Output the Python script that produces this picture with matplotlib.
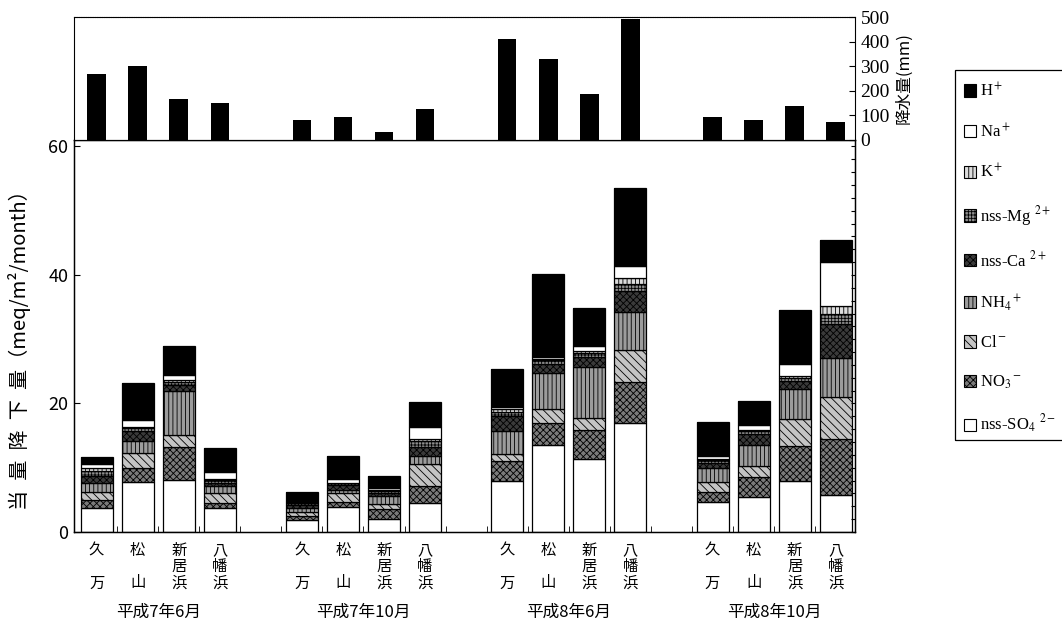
import matplotlib
matplotlib.use('Agg')
import matplotlib.pyplot as plt
import numpy as np
from matplotlib.patches import Patch, Rectangle

plt.rcParams['font.family'] = ['Noto Sans CJK JP', 'DejaVu Sans']
plt.rcParams['mathtext.fontset'] = 'stix'
plt.rcParams['hatch.linewidth'] = 0.6

# ---- data ----
sites = ['久\n\n万', '松\n\n山', '新\n居\n浜', '八\n幡\n浜']
periods = ['平成7年6月', '平成7年10月', '平成8年6月', '平成8年10月']

# 16 bars: 4 periods x 4 sites (久万, 松山, 新居浜, 八幡浜)
so4 = [3.7, 7.8, 8.1, 3.7, 1.8, 3.9, 2.1, 4.5, 7.9, 13.6, 11.3, 16.9, 4.6, 5.5, 8.0, 5.7]
no3 = [1.3, 2.2, 5.1, 0.8, 0.7, 0.8, 1.5, 2.7, 3.2, 3.4, 4.5, 6.5, 1.7, 3.0, 5.4, 8.8]
cl = [1.2, 2.3, 1.9, 1.6, 0.6, 1.3, 0.8, 3.4, 1.1, 2.2, 2.0, 4.9, 1.5, 1.8, 4.2, 6.5]
nh4 = [1.5, 1.9, 6.8, 1.0, 0.6, 0.6, 1.2, 1.3, 3.5, 5.6, 7.9, 5.9, 2.1, 3.3, 4.6, 6.0]
ca = [1.0, 1.5, 0.9, 0.6, 0.5, 0.7, 0.5, 1.3, 2.4, 1.4, 1.6, 3.3, 0.9, 1.6, 1.3, 5.3]
mg = [0.8, 0.5, 0.6, 0.4, 0.3, 0.3, 0.3, 0.9, 0.6, 0.5, 0.6, 1.1, 0.4, 0.5, 0.5, 1.7]
k = [0.5, 0.2, 0.3, 0.2, 0.2, 0.1, 0.1, 0.3, 0.4, 0.2, 0.3, 0.9, 0.2, 0.2, 0.2, 1.1]
na = [0.6, 1.0, 0.7, 1.1, 0.2, 0.5, 0.4, 1.9, 0.3, 0.4, 0.8, 1.9, 0.5, 0.8, 2.0, 6.9]
h = [1.0, 5.8, 4.6, 3.6, 1.3, 3.7, 1.8, 3.9, 6.0, 12.8, 5.9, 12.2, 5.2, 3.7, 8.3, 3.4]

rain = [270, 300, 165, 150, 80, 92, 32, 125, 410, 330, 185, 490, 92, 82, 140, 75]

# stacking order bottom -> top
stack = [
    (r'nss-SO$_4$ $^{2-}$', so4, 'white', None),
    (r'NO$_3$$^-$', no3, '#7a7a7a', 'xxxxx'),
    (r'Cl$^-$', cl, '#c4c4c4', '\\\\\\\\'),
    (r'NH$_4$$^+$', nh4, '#9c9c9c', '||||'),
    (r'nss-Ca $^{2+}$', ca, '#3a3a3a', 'xxxxx'),
    (r'nss-Mg $^{2+}$', mg, '#8e8e8e', '+++++'),
    (r'K$^+$', k, '#dcdcdc', '||||'),
    (r'Na$^+$', na, 'white', None),
    (r'H$^+$', h, 'black', None),
]

x = np.array([g * 5 + s for g in range(4) for s in range(4)])
xlim = (-0.55, 18.47)

fig = plt.figure(figsize=(10.62, 6.31), dpi=100)
L, W = 74 / 1062, 781 / 1062
ax = fig.add_axes([L, 1 - 532 / 631, W, 392 / 631])
axt = fig.add_axes([L, 1 - 140 / 631, W, 123 / 631])

bottom = np.zeros(len(x))
for name, vals, fc, hatch in stack:
    vals = np.array(vals)
    ax.bar(x, vals, bottom=bottom, width=0.78, color=fc, hatch=hatch,
           edgecolor='black', linewidth=0)
    ax.bar(x, vals, bottom=bottom, width=0.78, fill=False,
           edgecolor='black', linewidth=0.9)
    bottom += vals

ax.set_xlim(*xlim)
ax.set_ylim(0, 61)
ax.set_yticks([0, 20, 40, 60])
ax.tick_params(axis='y', direction='in', length=4, labelsize=13, pad=4)
ax.set_xticks(x)
ax.set_xticklabels(sites * 4, fontsize=11, linespacing=0.95)
ax.tick_params(axis='x', which='major', length=0, pad=7)
ax.set_xticks(np.arange(0.5, 18, 1), minor=True)
ax.tick_params(axis='x', which='minor', direction='in', length=4)
for sp in ax.spines.values():
    sp.set_linewidth(1.0)

axr = ax.twinx()
axr.set_ylim(0, 61)
axr.set_yticks(np.arange(0, 61, 2))
axr.tick_params(direction='in', length=3, labelright=False)

for i, p in enumerate(periods):
    ax.text(i * 5 + 1.5, -(612 - 532) / 392, p, transform=ax.get_xaxis_transform(),
            ha='center', va='center', fontsize=12)

fig.text(20 / 1062, 1 - 345 / 631, '当\u2002量\u2002降\u2002下\u2002量（meq/m²/month）',
         rotation=90, ha='center', va='center', fontsize=14.5)

# rainfall panel
axt.bar(x, rain, width=0.45, color='black')
axt.set_xlim(*xlim)
axt.set_ylim(0, 500)
axt.set_xticks([])
axt.yaxis.tick_right()
axt.set_yticks(range(0, 501, 100))
axt.tick_params(axis='y', direction='in', length=4, pad=4)
for lab in axt.get_yticklabels():
    lab.set_family('Liberation Serif')
    lab.set_fontsize(14)
axt.yaxis.set_label_position('right')
axt.set_ylabel('降水量(mm)', fontsize=12, labelpad=4)
axt.spines['top'].set_linestyle((0, (1, 0.6)))

# legend
handles = [Patch(facecolor=fc, hatch=hatch, edgecolor='black', linewidth=0.8)
           for name, vals, fc, hatch in stack][::-1]
labels = [name for name, vals, fc, hatch in stack][::-1]
fig.legend(handles, labels, loc='upper left', bbox_to_anchor=(957 / 1062, 1 - 75 / 631),
           frameon=False, prop={'family': 'Liberation Serif', 'size': 12},
           labelspacing=1.33, handlelength=0.75, handleheight=0.75, handletextpad=0.2,
           borderaxespad=0)
fig.patches.append(Rectangle((955 / 1062, 1 - 440 / 631), 0.2, 370 / 631,
                             transform=fig.transFigure, fill=False, lw=0.9))

fig.savefig('out.png', dpi=100)
